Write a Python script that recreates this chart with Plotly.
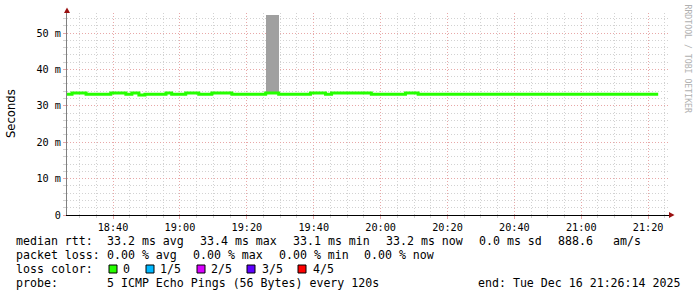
import plotly.graph_objects as go
import pandas as pd

DAY = "2025-12-16"
range_start = "18:26:14"
range_end = "21:26:14"

# median RTT step series (ms), value holds from this time until the next
step_times = ["18:26:14", "18:27:44", "18:31:56", "18:39:20", "18:43:50", "18:45:38",
              "18:47:44", "18:49:32", "18:55:50", "18:57:32", "19:01:44", "19:05:38",
              "19:09:32", "19:15:32", "19:25:38", "19:29:32", "19:39:02", "19:43:32",
              "19:45:20", "19:57:14", "20:07:26", "20:11:14", "21:23:00"]
median_ms = [33.2, 33.5, 33.2, 33.5, 33.2, 33.5,
             32.95, 33.2, 33.5, 33.2, 33.5, 33.2,
             33.5, 33.2, 33.5, 33.2, 33.5, 33.2,
             33.5, 33.2, 33.5, 33.2, 33.2]

# smoke (spread of the 5 pings) where visible
smoke_start = ["19:25:50", "19:49:32"]
smoke_end = ["19:29:44", "19:51:14"]
smoke_low = [33.2, 33.2]
smoke_high = [55.0, 33.85]

y_tick_vals = [0, 10, 20, 30, 40, 50]
y_tick_text = ["0", "10 m", "20 m", "30 m", "40 m", "50 m"]

legend_rows = [
    [("median rtt:", 16), ("33.2 ms avg", 107), ("33.4 ms max", 200), ("33.1 ms min", 293),
     ("33.2 ms now", 386), ("0.0 ms sd", 479), ("888.6", 558), ("am/s", 613)],
    [("packet loss:", 16), ("0.00 % avg", 107), ("0.00 % max", 193), ("0.00 % min", 279),
     ("0.00 % now", 364)],
    [("loss color:", 16), ("0", 123), ("1/5", 160), ("2/5", 211), ("3/5", 262), ("4/5", 313)],
    [("probe:", 16), ("5 ICMP Echo Pings (56 Bytes) every 120s", 107),
     ("end: Tue Dec 16 21:26:14 2025", 478)],
]
legend_row_y = [241.5, 255, 269, 283]
loss_colors = ["#26ff00", "#00b8ff", "#d800ff", "#5e00ff", "#ff0000"]
loss_box_x = [109, 146, 197, 247, 298]

W, H = 697, 297
L, R, T, B = 67, 28, 13, 82
PW, PH = W - L - R, H - T - B


def fx(p):
    return (p - L) / PW


def fy(p):
    return (T + PH - p) / PH


def ts(t):
    return pd.Timestamp(f"{DAY} {t}")


fig = go.Figure()

s0 = [ts(t) for t in smoke_start]
s1 = [ts(t) for t in smoke_end]
fig.add_trace(go.Bar(
    x=[a + (b - a) / 2 for a, b in zip(s0, s1)],
    y=[h - l for h, l in zip(smoke_high, smoke_low)],
    base=smoke_low,
    width=[(b - a).total_seconds() * 1000 for a, b in zip(s0, s1)],
    marker=dict(color="#a0a0a0", line=dict(width=0)),
    hoverinfo="skip",
))

fig.add_trace(go.Scatter(
    x=[ts(t) for t in step_times], y=median_ms, mode="lines",
    line=dict(color="#26ff00", width=3, shape="hv"),
    hoverinfo="skip",
))

mono = "DejaVu Sans Mono"
fig.update_layout(
    width=W, height=H, margin=dict(l=L, r=R, t=T, b=B),
    paper_bgcolor="white", plot_bgcolor="white", showlegend=False,
    bargap=0,
    xaxis=dict(
        range=[ts(range_start), ts(range_end)], type="date",
        tick0=ts("18:40:00"), dtick=20 * 60 * 1000, tickformat="%H:%M",
        showgrid=True, gridcolor="#e8a8a8", griddash="1px,2px", gridwidth=1,
        ticks="outside", ticklen=3, tickcolor="#e8a8a8",
        tickfont=dict(family=mono, size=10.2, color="black"),
        showline=True, linecolor="black", linewidth=1,
        minor=dict(dtick=5 * 60 * 1000, tick0=ts("18:40:00"), showgrid=True,
                   gridcolor="#d2d2d2", griddash="1px,2px", gridwidth=1,
                   ticks="outside", ticklen=2, tickcolor="#d2d2d2"),
        zeroline=False, fixedrange=True,
    ),
    yaxis=dict(
        range=[0, 55.5], tickvals=y_tick_vals, ticktext=y_tick_text,
        showgrid=True, gridcolor="#e8a8a8", griddash="1px,2px", gridwidth=1,
        ticks="outside", ticklen=3, tickcolor="#e8a8a8",
        tickfont=dict(family=mono, size=10.2, color="black"),
        showline=True, linecolor="#808080", linewidth=1,
        minor=dict(dtick=2, tick0=0, showgrid=True, gridcolor="#d2d2d2",
                   griddash="1px,2px", gridwidth=1,
                   ticks="outside", ticklen=3, tickcolor="#d2d2d2"),
        zeroline=False, fixedrange=True,
    ),
)

ann = []
for row, yc in zip(legend_rows, legend_row_y):
    for text, xp in row:
        ann.append(dict(x=fx(xp - 2), y=fy(yc), xref="paper", yref="paper",
                        text=text.replace(" ", "&nbsp;"), showarrow=False,
                        xanchor="left", yanchor="middle",
                        font=dict(family=mono, size=11.6, color="black")))
ann.append(dict(x=fx(11), y=fy(114), xref="paper", yref="paper", text="Seconds",
                textangle=-90, showarrow=False, xanchor="center", yanchor="middle",
                font=dict(family="DejaVu Sans", size=11.6, color="black")))
ann.append(dict(x=fx(687.5), y=fy(59), xref="paper", yref="paper",
                text="RRDTOOL / TOBI OETIKER", textangle=90, showarrow=False,
                xanchor="center", yanchor="middle",
                font=dict(family=mono, size=8.2, color="#b0b0b0")))
fig.update_layout(annotations=ann)

shapes = []
for c, bx in zip(loss_colors, loss_box_x):
    shapes.append(dict(type="rect", xref="paper", yref="paper",
                       x0=fx(bx), x1=fx(bx + 8), y0=fy(265), y1=fy(273),
                       fillcolor=c, line=dict(color="black", width=1)))
arrow = "#9a1010"
shapes.append(dict(type="path", xref="paper", yref="paper",
                   path=f"M {fx(64)} {fy(13)} L {fx(70)} {fy(13)} L {fx(67)} {fy(7.5)} Z",
                   fillcolor=arrow, line=dict(color=arrow, width=0)))
shapes.append(dict(type="path", xref="paper", yref="paper",
                   path=f"M {fx(669)} {fy(212)} L {fx(669)} {fy(218)} L {fx(674.5)} {fy(215)} Z",
                   fillcolor=arrow, line=dict(color=arrow, width=0)))
fig.update_layout(shapes=shapes)

fig.write_html("out.html")
